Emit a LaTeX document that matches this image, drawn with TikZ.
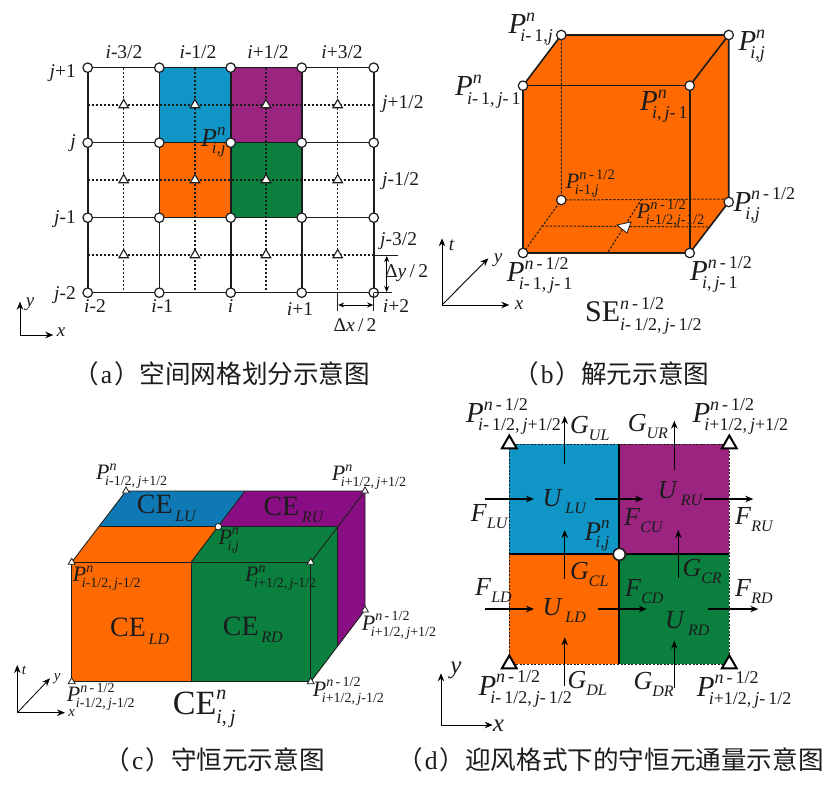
\documentclass[tikz,border=0pt]{standalone}
\usepackage{fontspec}
\setmainfont{Liberation Serif}
\newfontfamily\cjk{Noto Sans CJK SC}
\usetikzlibrary{shapes.geometric,arrows.meta}
\definecolor{cOr}{HTML}{FF6A00}
\definecolor{cGr}{HTML}{0A7F3E}
\definecolor{cBl}{HTML}{0F96C7}
\definecolor{cPu}{HTML}{9B2481}
\definecolor{cBlb}{HTML}{0F79B5}
\definecolor{cPub}{HTML}{8A0E83}
\definecolor{ink}{HTML}{1C1C1C}
% \Sy{main size}{script size}{main}{sup}{sub}
\newcommand\Sy[5]{{\fontsize{#1}{#1}\selectfont #3}\rlap{\raisebox{.42\dimexpr #1pt\relax}{\fontsize{#2}{#2}\selectfont #4}}\raisebox{-.28\dimexpr #1pt\relax}{\fontsize{#2}{#2}\selectfont #5}}
% \Pp{main size}{script size}{sup}{sub}: the subscript tucks under the italic P
\newcommand\Pp[4]{{\fontsize{#1}{#1}\selectfont\textit{P}}\rlap{\raisebox{.42\dimexpr #1pt\relax}{\fontsize{#2}{#2}\selectfont #3}}\kern-.2\dimexpr #1pt\relax\raisebox{-.28\dimexpr #1pt\relax}{\fontsize{#2}{#2}\selectfont #4}}
\newcommand\ii{\textit{i}}
\newcommand\jj{\textit{j}}
\newcommand\nn{\textit{n}}
\newcommand\half{\nn\,-\,1/2}
\newcommand\TT[2]{{\fontsize{#1}{#1}\selectfont #2}}
\newcommand\capl[1]{（\kern2pt{\normalfont\fontsize{25.6}{26}\selectfont #1}\kern2pt）}
\tikzset{
  lab/.style={inner sep=0pt,text=ink,anchor=base west},
  labc/.style={inner sep=0pt,text=ink,anchor=center},
  captxt/.style={inner sep=0pt,text=ink,anchor=base west,font=\cjk\fontsize{25.6}{26}\selectfont},
  gridln/.style={draw=ink,line width=1.6pt},
  dsh/.style={draw=ink,line width=1.2pt,dash pattern=on 2.4pt off 1.6pt},
  dimln/.style={draw=ink,line width=0.9pt},
  arr/.style={draw=black,line width=1.2pt,-{Stealth[length=8pt,width=6.5pt]}},
  dimarr/.style={draw=black,line width=1pt,{Stealth[length=6pt,width=5pt]}-{Stealth[length=6pt,width=5pt]}},
  circ/.style={circle,draw=ink,fill=white,line width=1.2pt,minimum size=9.5pt,inner sep=0pt},
  circs/.style={circle,draw=ink,fill=white,line width=0.8pt,minimum size=6.5pt,inner sep=0pt},
  trg/.style={regular polygon,regular polygon sides=3,draw=ink,fill=white,line width=1.1pt,minimum size=11pt,inner sep=0pt},
  trs/.style={regular polygon,regular polygon sides=3,draw=ink,fill=white,line width=0.8pt,minimum size=8pt,inner sep=0pt},
  trb/.style={regular polygon,regular polygon sides=3,draw=black,fill=white,line width=2pt,minimum size=17pt,inner sep=0pt},
}
\begin{document}
\begin{tikzpicture}[x=1pt,y=-1pt]
\useasboundingbox (0,0) rectangle (827,786);
\fill[white] (0,0) rectangle (827,786);

% ============ (a) ============
\fill[cBl] (159.3,67.7) rectangle (230.7,142.7);
\fill[cPu] (230.7,67.7) rectangle (301.7,142.7);
\fill[cOr] (159.3,142.7) rectangle (230.7,217.7);
\fill[cGr] (230.7,142.7) rectangle (301.7,217.7);
\foreach \x in {123.7,195,266,337.7} \draw[dsh] (\x,67.7) -- (\x,292.7);
\foreach \y in {105,180,255} \draw[dsh] (87.7,\y) -- (373.7,\y);
\foreach \x in {87.7,159.3,230.7,301.7,373.7} \draw[gridln] (\x,67.7) -- (\x,292.7);
\foreach \y in {67.7,142.7,217.7,292.7} \draw[gridln] (87.7,\y) -- (373.7,\y);
\foreach \x in {123.7,195,266,337.7} \foreach \y in {105,180,255}
  \node[trg] (a-t-\x-\y) at (\x,\y) {};
\foreach \x in {87.7,159.3,230.7,301.7,373.7} \foreach \y in {67.7,142.7,217.7,292.7}
  \node[circ] (a-c-\x-\y) at (\x,\y) {};
\node[labc] (a1) at (124,52.3) {\TT{19.5}{\ii-3/2}};
\node[labc] (a2) at (198,52.3) {\TT{19.5}{\ii-1/2}};
\node[labc] (a3) at (268,52.3) {\TT{19.5}{\ii+1/2}};
\node[labc] (a4) at (342,52.3) {\TT{19.5}{\ii+3/2}};
\node[labc,anchor=east] (b1) at (76,72.7) {\TT{19.5}{\jj+1}};
\node[labc,anchor=east] (b2) at (76,143) {\TT{19.5}{\jj}};
\node[labc,anchor=east] (b3) at (76,219) {\TT{19.5}{\jj-1}};
\node[labc,anchor=east] (b4) at (76,295) {\TT{19.5}{\jj-2}};
\node[lab] (jp) at (382,109) {\TT{19.5}{\jj+1/2}};
\node[lab] (jm) at (382,186) {\TT{19.5}{\jj-1/2}};
\node[lab] (jmm) at (380,246) {\TT{19.5}{\jj-3/2}};
\node[labc] (i1) at (95,305.7) {\TT{19.5}{\ii-2}};
\node[labc] (i2) at (162.3,305.7) {\TT{19.5}{\ii-1}};
\node[labc] (i3) at (230.7,305.7) {\TT{19.5}{\ii}};
\node[labc] (i4) at (300,309) {\TT{19.5}{\ii+1}};
\node[labc] (i5) at (396,305.7) {\TT{19.5}{\ii+2}};
\node[labc] (dxl) at (355,325) {\TT{19.5}{Δ\textit{x}\,/\,2}};
\node[lab] (dyl) at (385,278) {\TT{19.5}{Δ\textit{y}\,/\,2}};
\draw[dimln] (373.7,255) -- (398.3,255);
\draw[dimln] (373.7,292.7) -- (392,292.7);
\draw[dimln] (337.7,292.7) -- (337.7,311);
\draw[dimln] (373.7,292.7) -- (373.7,311);
\draw[dimarr] (386.7,256) -- (386.7,292);
\draw[dimarr] (338.2,305) -- (373.2,305);
\node[lab] (apn) at (201,146.7) {\Pp{26}{17}{\nn}{\ii,\jj}};
\coordinate (ao) at (20,335);
\draw[arr,line width=.9pt] (ao) -- (20,301.7);
\draw[arr,line width=.9pt] (ao) -- (53.3,335);
\node[labc] (ay) at (30,304) {\TT{19}{\textit{y}}};
\node[labc] (ax) at (61,332) {\TT{19}{\textit{x}}};

% ============ (b) ============
\coordinate (ftl) at (523,85.7); \coordinate (ftr) at (689.7,85.7);
\coordinate (fbl) at (523,253); \coordinate (fbr) at (689.7,253);
\coordinate (btl) at (561.3,35); \coordinate (btr) at (728.7,35);
\coordinate (bbl) at (561.3,200); \coordinate (bbr) at (728.7,202);
\fill[cOr] (ftl) -- (btl) -- (btr) -- (bbr) -- (fbr) -- (fbl) -- cycle;
\draw[dsh,line width=1pt] (btl) -- (bbl) -- (fbl);
\draw[dsh,line width=1pt] (bbl) -- (728.7,199);
\draw[dsh,line width=1pt] (541.7,226) -- (708,227);
\draw[dsh,line width=1pt] (641.7,199) -- (608.3,251.7);
\draw[gridln] (fbl) -- (ftl) -- (ftr) -- (fbr) -- cycle;
\draw[gridln] (ftl) -- (btl) -- (btr) -- (bbr) -- (fbr);
\draw[gridln] (ftr) -- (btr);
\foreach \c in {ftl,ftr,fbl,fbr,btl,btr,bbl,bbr} \node[circ] (n\c) at (\c) {};
\fill[white,draw=ink,line width=.8pt] (631,222) -- (627,233) -- (617,225) -- cycle;
\node[lab] (p1) at (508.3,33.3) {\Pp{29}{18}{\nn}{\ii-\,1,\jj}};
\node[lab] (p2) at (738.3,50.7) {\Pp{29}{18}{\nn}{\ii,\jj}};
\node[lab] (p3) at (455,96) {\Pp{29}{18}{\nn}{\ii-\,1,\,\jj-\,1}};
\node[lab] (p4) at (640,110.7) {\Pp{29}{18}{\nn}{\ii,\,\jj-\,1}};
\node[lab] (p5) at (565.7,188.3) {\Pp{22}{14.5}{\half}{\ii-1,\jj}};
\node[lab] (p6) at (733.3,211.7) {\Pp{29}{18}{\half}{\ii,\jj}};
\node[lab] (p7) at (636.7,218.3) {\Pp{22}{14.5}{\half}{\ii-1/2,\jj-1/2}};
\node[lab] (p8) at (506.7,281.7) {\Pp{29}{18}{\half}{\ii-\,1,\,\jj-\,1}};
\node[lab] (p9) at (690,280.7) {\Pp{29}{18}{\half}{\ii,\,\jj-\,1}};
\node[lab] (se) at (585,321.7) {\Sy{30}{18}{SE}{\half}{\ii-\,1/2,\,\jj-\,1/2}};
\coordinate (bo) at (442,305);
\draw[arr,line width=.9pt] (bo) -- (442,238.3);
\draw[arr,line width=.9pt] (bo) -- (509.3,305);
\draw[arr,line width=.9pt] (bo) -- (488.3,258.3);
\node[labc] (bt) at (451.7,245) {\TT{19}{\textit{t}}};
\node[labc] (by) at (498,260) {\TT{19}{\textit{y}}};
\node[labc] (bx) at (519,305) {\TT{19}{\textit{x}}};

% ============ (c) ============
\fill[cBlb] (126,491) -- (245,491) -- (218.3,526.7) -- (99.3,526.7) -- cycle;
\fill[cPub] (245,491) -- (365,491) -- (337.3,526.7) -- (218.3,526.7) -- cycle;
\fill[cOr] (99.3,526.7) -- (218.3,526.7) -- (191,562.3) -- (71.7,562.3) -- cycle;
\fill[cGr] (218.3,526.7) -- (337.3,526.7) -- (310.7,562.3) -- (191,562.3) -- cycle;
\fill[cOr] (71.7,562.3) rectangle (191,681.7);
\fill[cGr] (191,562.3) rectangle (310.7,681.7);
\fill[cGr] (310.7,562.3) -- (337.3,526.7) -- (337.3,646.6) -- (310.7,681.7) -- cycle;
\fill[cPub] (337.3,526.7) -- (365,491) -- (365,610) -- (337.3,646.6) -- cycle;
\begin{scope}[draw=ink,line width=.9pt]
\draw (71.7,562.3) rectangle (310.7,681.7);
\draw (191,562.3) -- (191,681.7);
\draw (71.7,562.3) -- (126,491) -- (365,491) -- (365,610) -- (310.7,681.7);
\draw (99.3,526.7) -- (337.3,526.7) -- (337.3,646.6);
\draw (310.7,562.3) -- (365,491);
\draw (191,562.3) -- (245,491);
\end{scope}
\node[circs] (cc) at (218.3,526.7) {};
\foreach \n/\x/\y in {t1/126/491,t2/365/491,t3/71.7/562.3,t4/310.7/562.3,t5/365/610,t6/71.7/681.7,t7/310.7/681.7}
  \node[trs] (\n) at (\x,\y) {};
\node[lab] (q1) at (96,479.3) {\Pp{22}{14}{\nn}{\ii-1/2,\,\jj+1/2}};
\node[lab] (q2) at (331.7,480.7) {\Pp{22}{14}{\nn}{\ii+1/2,\,\jj+1/2}};
\node[lab] (q3) at (218.3,544) {\Pp{22}{14}{\nn}{\ii,\jj}};
\node[lab] (q4) at (72.7,581.7) {\Pp{22}{14}{\nn}{\ii-1/2,\,\jj-1/2}};
\node[lab] (q5) at (245,581.7) {\Pp{22}{14}{\nn}{\ii+1/2,\,\jj-1/2}};
\node[lab] (q6) at (361.7,630) {\Pp{22}{14}{\half}{\ii+1/2,\,\jj+1/2}};
\node[lab] (q7) at (66.7,701.7) {\Pp{22}{14}{\half}{\ii-1/2,\,\jj-1/2}};
\node[lab] (q8) at (312.7,696) {\Pp{22}{14}{\half}{\ii+1/2,\,\jj-1/2}};
\node[lab] (c1) at (136.7,513.3) {\Sy{28}{16}{CE}{}{\,\textit{LU}}};
\node[lab] (c2) at (263.3,515) {\Sy{28}{16}{CE}{}{\,\textit{RU}}};
\node[lab] (c3) at (110,636.7) {\Sy{28}{16}{CE}{}{\,\textit{LD}}};
\node[lab] (c4) at (222.7,635) {\Sy{28}{16}{CE}{}{\,\textit{RD}}};
\node[lab] (c5) at (172.7,714) {\Sy{34}{20}{CE}{\nn}{\ii,\,\jj}};
\coordinate (co) at (17.3,712.7);
\draw[arr,line width=.8pt] (co) -- (17.3,665);
\draw[arr,line width=.8pt] (co) -- (65,712.7);
\draw[arr,line width=.8pt] (co) -- (50,678.3);
\node[labc] (ct) at (24,670) {\TT{15}{\textit{t}}};
\node[labc] (cy) at (57.3,679) {\TT{15}{\textit{y}}};
\node[labc] (cx) at (71.7,712.7) {\TT{15}{\textit{x}}};

% ============ (d) ============
\fill[cBl] (509.3,444.3) rectangle (619.3,554.3);
\fill[cPu] (619.3,444.3) rectangle (729.3,554.3);
\fill[cOr] (509.3,554.3) rectangle (619.3,664.3);
\fill[cGr] (619.3,554.3) rectangle (729.3,664.3);
\draw[draw=ink,line width=.8pt,dash pattern=on 2pt off 1.6pt] (509.3,444.3) rectangle (729.3,664.3);
\draw[black,line width=1.8pt] (509.3,554.3) -- (729.3,554.3) (619.3,444.3) -- (619.3,664.3);
\node[trb] (d1) at (509.3,444) {};
\node[trb] (d2) at (729.3,444) {};
\node[trb] (d3) at (509.3,664) {};
\node[trb] (d4) at (729.3,664) {};
\node[circ,minimum size=12pt,line width=1.6pt] (dc) at (619.3,554.3) {};
\foreach \x/\a/\b in {564.7/464/416,674.3/470/420.7,564.7/579/530,678.3/577.7/530,564.7/685.7/637.3,674.3/688.3/640.7}
  \draw[arr] (\x,\a) -- (\x,\b);
\foreach \a/\b/\y in {485/534/499,595/643.3/499,704.3/753.3/499,485/534/609,597.7/646.7/609,708.3/758.3/609}
  \draw[arr] (\a,\y) -- (\b,\y);
\node[lab] (r1) at (466,422.7) {\Pp{29}{18}{\half}{\ii-\,1/2,\,\jj+1/2}};
\node[lab] (r2) at (692.3,422.7) {\Pp{29}{18}{\half}{\ii+1/2,\,\jj+1/2}};
\node[lab] (r3) at (478.3,695) {\Pp{29}{18}{\half}{\ii-\,1/2,\,\jj-\,1/2}};
\node[lab] (r4) at (696.7,696) {\Pp{29}{18}{\half}{\ii+1/2,\,\jj-\,1/2}};
\node[lab] (r5) at (584.3,540) {\Pp{27}{17}{\nn}{\ii,\jj}};
\foreach \n/\x/\y/\m/\s in {
  g1/570/433.3/G/UL,g2/627.7/431.7/G/UR,g3/570/579/G/CL,g4/682.3/576/G/CR,g5/567.3/688.3/G/DL,g6/633.3/689.3/G/DR,
  f1/470.7/521.7/F/LU,f2/624/525/F/CU,f3/735/524.3/F/RU,f4/475/595.7/F/LD,f5/625/596.7/F/CD,f6/735/596.7/F/RD}
  \node[lab] (\n) at (\x,\y) {\Sy{26}{16}{\textit{\m}}{}{\textit{\s}}};
\foreach \n/\x/\y/\s in {u1/542.3/506.7/LU,u2/657.7/498.3/RU,u3/542.3/615.7/LD,u4/665/628.3/RD}
  \node[lab] (\n) at (\x,\y) {\Sy{26}{16}{\textit{U}}{}{\,\textit{\s}}};
\coordinate (do) at (441,725);
\draw[arr,line width=1pt] (do) -- (441,673.3);
\draw[arr,line width=1pt] (do) -- (492.7,725);
\node[labc] (dy) at (456,670) {\TT{25}{\textit{y}}};
\node[labc] (dx) at (498.3,726) {\TT{25}{\textit{x}}};

% ============ captions ============
\node[captxt] (capa) at (73,383) {\capl{a}空间网格划分示意图};
\node[captxt] (capb) at (513,383) {\capl{b}解元示意图};
\node[captxt] (capc) at (104.4,769) {\capl{c}守恒元示意图};
\node[captxt] (capd) at (397,769) {\capl{d}迎风格式下的守恒元通量示意图};
\end{tikzpicture}
\end{document}
